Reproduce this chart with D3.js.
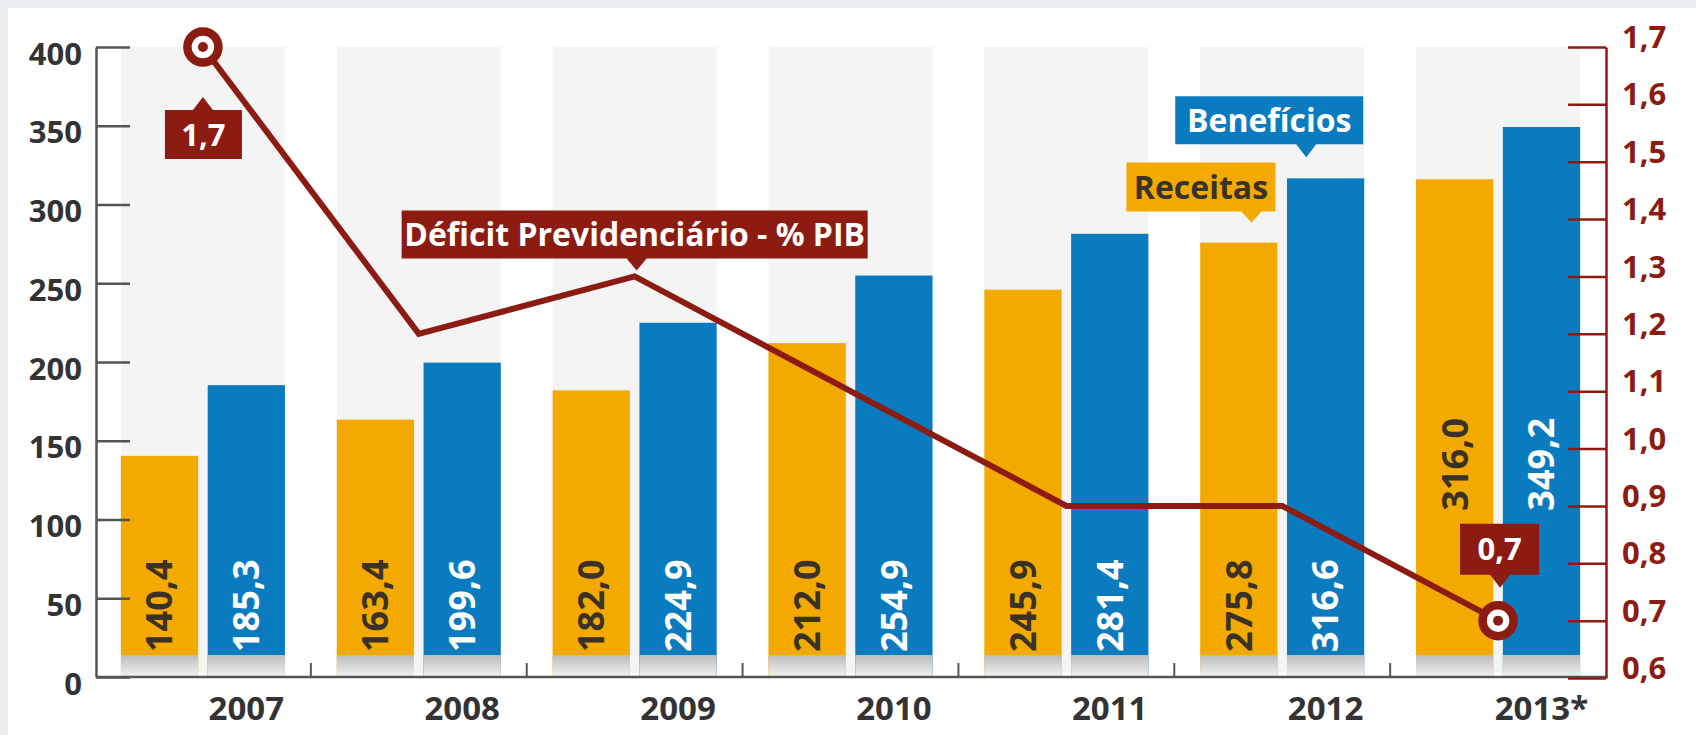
<!DOCTYPE html>
<html><head><meta charset="utf-8">
<script src="https://cdn.jsdelivr.net/npm/d3@7"></script>
<style>
html,body{margin:0;padding:0;background:#fff;overflow:hidden;}
svg{display:block;}
text{font-family:"Open Sans",sans-serif;font-weight:700;}
</style></head><body>
<svg id="chart" width="1696" height="735"></svg>
<script>
// ---- data ----
const years = ["2007","2008","2009","2010","2011","2012","2013"];
const yearLabels = ["2007","2008","2009","2010","2011","2012","2013*"];
const receitas = [140.4,163.4,182.0,212.0,245.9,275.8,316.0];
const beneficios = [185.3,199.6,224.9,254.9,281.4,316.6,349.2];
const deficitPIB = [1.7,1.2,1.3,1.1,0.9,0.9,0.7];
const leftTicks = [0,50,100,150,200,250,300,350,400];
const rightTicks = [0.6,0.7,0.8,0.9,1.0,1.1,1.2,1.3,1.4,1.5,1.6,1.7];
const seriesKeys = ["rec","ben"];
const seriesNames = ["Receitas","Benefícios"];
const lineName = "Déficit Previdenciário - % PIB";

// ---- style ----
const ORANGE = "#f4a900", BLUE = "#0a7bbf", RED = "#8c1b12", AXIS = "#555", TXT = "#333";
const comma = v => d3.format(".1f")(v).replace(".", ",");

const svg = d3.select("#chart");
// page background
svg.append("rect").attr("width",1696).attr("height",735).attr("fill","#e9edf0");
svg.append("rect").attr("x",8).attr("y",8).attr("width",1688).attr("height",727).attr("fill","#fff");

const defs = svg.append("defs");
const grad = defs.append("linearGradient").attr("id","shade").attr("x1",0).attr("y1",0).attr("x2",0).attr("y2",1);
grad.append("stop").attr("offset","0%").attr("stop-color","#bcbcbc");
grad.append("stop").attr("offset","100%").attr("stop-color","#f2f2f2");

// ---- scales ----
const x = d3.scaleBand().domain(years).range([95,1606]).paddingInner(0.24).paddingOuter(0.12);
const xs = d3.scaleBand().domain(seriesKeys).range([0, x.bandwidth()]).paddingInner(0.11);
const y = d3.scaleLinear().domain([0,400]).range([677,47]);
const yR = d3.scaleLinear().domain([0.6,1.7]).range([678,47]);
const cx = i => x(years[i]) + x.bandwidth()/2;

// column backgrounds
svg.append("g").selectAll("rect").data(years).join("rect")
  .attr("x", d => x(d)).attr("y", y(400))
  .attr("width", x.bandwidth()).attr("height", 673 - y(400))
  .attr("fill","#f4f4f4");

// bars
const barData = [];
years.forEach((yr,i)=>{
  barData.push({yr, i, key:"rec", v:receitas[i]});
  barData.push({yr, i, key:"ben", v:beneficios[i]});
});
const bars = svg.append("g");
bars.selectAll("rect.bar").data(barData).join("rect").attr("class","bar")
  .attr("x", d => x(d.yr) + xs(d.key)).attr("y", d => y(d.v))
  .attr("width", xs.bandwidth()).attr("height", d => y(0) - y(d.v))
  .attr("fill", d => d.key === "rec" ? ORANGE : BLUE);
bars.selectAll("rect.shade").data(barData).join("rect").attr("class","shade")
  .attr("x", d => x(d.yr) + xs(d.key)).attr("y", y(0) - 22)
  .attr("width", xs.bandwidth()).attr("height", 22)
  .attr("fill","url(#shade)");

// value labels inside bars
const capOff = 0.357*36;
bars.selectAll("text").data(barData).join("text")
  .attr("transform", d => {
    const bx = x(d.yr) + xs(d.key) + xs.bandwidth()/2 + capOff;
    const by = d.i === years.length-1 ? yR(deficitPIB[d.i]) - 110 : y(0) - 25;
    return `translate(${bx},${by}) rotate(-90)`;
  })
  .attr("font-size",36).attr("fill", d => d.key === "rec" ? "#3a3226" : "#fff")
  .text(d => comma(d.v));

// left axis
const axL = svg.append("g").attr("transform","translate(96,0)")
  .call(d3.axisLeft(y).tickValues(leftTicks).tickSize(-34).tickSizeOuter(0).tickPadding(14).tickFormat(d3.format("d")));
axL.select(".domain").attr("stroke",AXIS).attr("stroke-width",2.5);
axL.selectAll(".tick line").attr("stroke",AXIS).attr("stroke-width",2.5);
axL.selectAll(".tick text").attr("font-size",31).attr("fill",TXT).attr("dy","0.55em")
  .style("font-family","'Open Sans',sans-serif").style("font-weight",700);

// x axis line & separators
svg.append("line").attr("x1",96).attr("x2",1606).attr("y1",y(0)).attr("y2",y(0))
  .attr("stroke",AXIS).attr("stroke-width",2.5);
svg.append("g").selectAll("line").data(years.slice(1)).join("line")
  .attr("x1", d => x(d) - x.step()*x.paddingInner()/2)
  .attr("x2", d => x(d) - x.step()*x.paddingInner()/2)
  .attr("y1", y(0) - 14).attr("y2", y(0)).attr("stroke",AXIS).attr("stroke-width",2);
svg.append("g").selectAll("text").data(years).join("text")
  .attr("x", d => x(d) + xs("ben") + xs.bandwidth()/2).attr("y",720)
  .attr("text-anchor","middle").attr("font-size",33).attr("fill",TXT)
  .text((d,i) => yearLabels[i]);

// right axis
const axR = svg.append("g").attr("transform","translate(1606,0)")
  .call(d3.axisRight(yR).tickValues(rightTicks).tickSize(-38).tickSizeOuter(0).tickPadding(16).tickFormat(comma));
axR.select(".domain").attr("stroke",RED).attr("stroke-width",2.5);
axR.selectAll(".tick line").attr("stroke",RED).attr("stroke-width",2.5);
axR.selectAll(".tick text").attr("font-size",31).attr("fill",RED).attr("dy","0.02em")
  .style("font-family","'Open Sans',sans-serif").style("font-weight",700);

// line
svg.append("path").datum(deficitPIB)
  .attr("d", d3.line().x((d,i)=>cx(i)).y(d=>yR(d)))
  .attr("fill","none").attr("stroke",RED).attr("stroke-width",6).attr("stroke-linejoin","miter");

// callout helper
function callout({left, top, w, h, tipX, dir, ph=13, pw=10, fill, color, text, fs=32}) {
  const g = svg.append("g");
  let p;
  if (dir === "down") {
    const b = top + h;
    p = `M${left},${top}H${left+w}V${b}H${tipX+pw}L${tipX},${b+ph}L${tipX-pw},${b}H${left}Z`;
  } else {
    p = `M${left},${top}H${tipX-pw}L${tipX},${top-ph}L${tipX+pw},${top}H${left+w}V${top+h}H${left}Z`;
  }
  g.append("path").attr("d",p).attr("fill",fill);
  g.append("text").attr("x", left + w/2).attr("y", top + h/2 + 0.357*fs)
    .attr("text-anchor","middle").attr("font-size",fs).attr("fill",color).text(text);
}

const last = years.length - 1;
// value callouts on first and last points
callout({left: cx(0)-38, top: yR(deficitPIB[0])+63, w:77, h:49, tipX: cx(0), dir:"up",
  fill:RED, color:"#fff", text: comma(deficitPIB[0]), fs:31});
callout({left: cx(last)-38, top: yR(deficitPIB[last])-97, w:79, h:51, tipX: cx(last)+2, dir:"down",
  fill:RED, color:"#fff", text: comma(deficitPIB[last]), fs:31});
// line legend
callout({left: cx(2)-233, top: yR(deficitPIB[2])-66, w:466, h:48, tipX: cx(2)+2, dir:"down",
  ph:12, fill:RED, color:"#fff", text: lineName});
// series legends anchored on 2012 bars
const i12 = 5;
const recR = x(years[i12]) + xs("rec") + xs.bandwidth();
const benR = x(years[i12]) + xs("ben") + xs.bandwidth();
callout({left: recR-151, top: y(receitas[i12])-80, w:149, h:49, tipX: recR-26, dir:"down",
  ph:11, fill:ORANGE, color:"#3a3226", text: seriesNames[0]});
callout({left: benR-189, top: y(beneficios[i12])-82, w:188, h:48, tipX: benR-58, dir:"down",
  ph:13, fill:BLUE, color:"#fff", text: seriesNames[1]});

// markers
const mk = svg.append("g");
[0, last].forEach(i => {
  mk.append("circle").attr("cx",cx(i)).attr("cy",yR(deficitPIB[i])).attr("r",15.5)
    .attr("fill","#fff").attr("stroke",RED).attr("stroke-width",8.5);
  mk.append("circle").attr("cx",cx(i)).attr("cy",yR(deficitPIB[i])).attr("r",5).attr("fill",RED);
});
</script>
</body></html>
